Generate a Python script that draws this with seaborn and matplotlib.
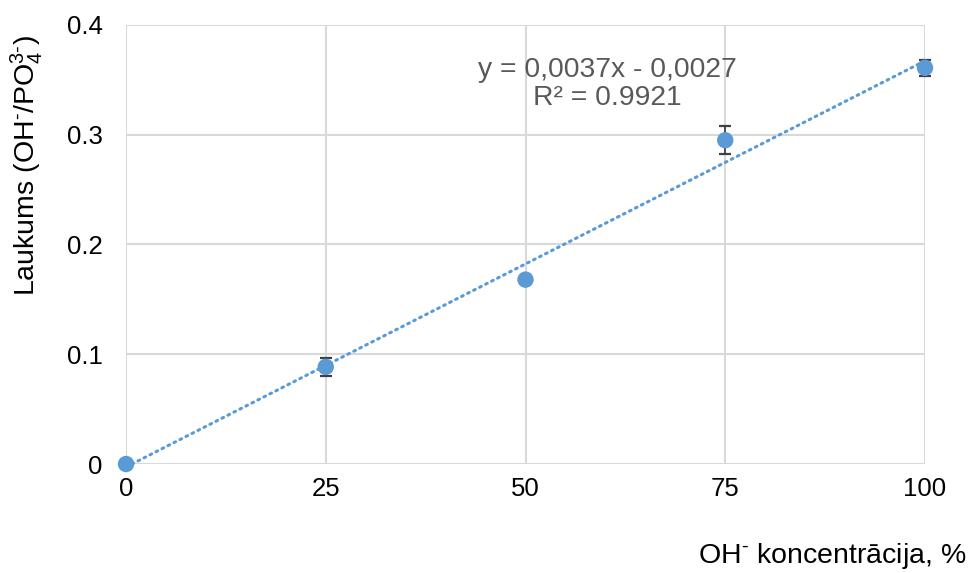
import numpy as np
import pandas as pd
import matplotlib
matplotlib.use("Agg")
import matplotlib.pyplot as plt
import seaborn as sns

# Measured OH- / PO4^3- peak area ratio versus OH- concentration
concentration = [0, 25, 50, 75, 100]
area_ratio = [0.0, 0.0885, 0.168, 0.295, 0.361]
area_err = [0.0, 0.008, 0.0, 0.013, 0.0075]

# Linear trend line coefficients (as reported in the equation label)
slope = 0.0037
intercept = -0.0027
r_squared = 0.9921

x_ticks = [0, 25, 50, 75, 100]
y_ticks = [0, 0.1, 0.2, 0.3, 0.4]
y_tick_labels = ["0", "0.1", "0.2", "0.3", "0.4"]

sns.set_theme(style="whitegrid")
plt.rcParams["font.family"] = ["Liberation Sans", "DejaVu Sans"]
plt.rcParams["mathtext.fontset"] = "custom"
plt.rcParams["mathtext.rm"] = "Liberation Sans"
plt.rcParams["mathtext.it"] = "Liberation Sans:italic"

point_color = "#5B9BD5"
grid_color = "#D9D9D9"

df = pd.DataFrame({"conc": concentration, "area": area_ratio, "err": area_err})
trend = pd.DataFrame({"conc": [0, 100]})
trend["area"] = slope * trend["conc"] + intercept

fig = plt.figure(figsize=(9.71, 5.73), dpi=100)
ax = fig.add_axes([0.1298, 0.1902, 0.8228, 0.7662])

# Error bars (only where a spread was measured)
err_df = df[df["err"] > 0]
ax.errorbar(err_df["conc"], err_df["area"], yerr=err_df["err"], fmt="none",
            ecolor="#404040", elinewidth=1.3, capsize=4.5, capthick=1.6,
            zorder=3, clip_on=False)

sns.scatterplot(data=df, x="conc", y="area", ax=ax, color=point_color,
                s=140, edgecolor="none", zorder=4, clip_on=False)

sns.lineplot(data=trend, x="conc", y="area", ax=ax, color=point_color,
             linewidth=2.2, linestyle=(0, (0.6, 1.6)), zorder=2)
for ln in ax.lines:
    ln.set_dash_capstyle("round")
    ln.set_clip_on(False)

ax.set_xlim(0, 100)
ax.set_ylim(0, 0.4)
ax.set_xticks(x_ticks)
ax.set_xticklabels([str(t) for t in x_ticks])
ax.set_yticks(y_ticks)
ax.set_yticklabels(y_tick_labels)
ax.tick_params(axis="both", labelsize=18.5, length=0, colors="black")
ax.tick_params(axis="x", pad=9)
ax.tick_params(axis="y", pad=17)
ax.grid(True, color=grid_color, linewidth=1.5)
for side in ["top", "right", "left", "bottom"]:
    ax.spines[side].set_visible(False)
ax.set_xlabel("")
ax.set_ylabel("")

equation = f"y = {slope:.4f}x - {abs(intercept):.4f}".replace(".", ",")
ax.text(60.2, 0.346, f"{equation}\nR² = {r_squared:.4f}",
        ha="center", va="center", fontsize=20.3, color="#595959",
        linespacing=1.12)

fig.text(27 / 971, 1 - 165 / 573,
         r"Laukums (OH$^{\text{-}}$/PO$_4^{\text{3-}}$)",
         rotation=90, ha="center", va="center", fontsize=20.5, color="black")
fig.text(966 / 971, 1 - 556 / 573, r"OH$^{\text{-}}$ koncentrācija, %",
         ha="right", va="center", fontsize=20.5, color="black")

fig.savefig("out.png", dpi=100)
